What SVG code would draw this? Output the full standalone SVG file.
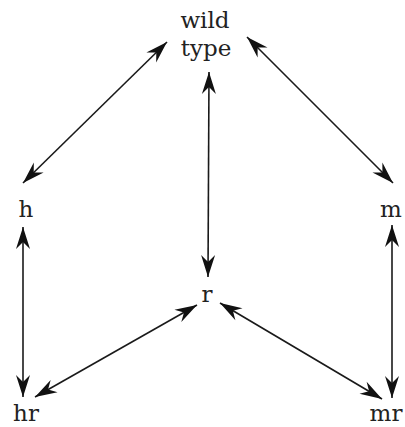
<svg xmlns="http://www.w3.org/2000/svg" width="405" height="427" viewBox="0 0 405 427">
<defs>
<marker id="ah" viewBox="-23 -8 25 16" markerUnits="userSpaceOnUse" markerWidth="25" markerHeight="16" refX="0" refY="0" orient="auto-start-reverse">
<path d="M0,0 L-22,-7 L-15,0 L-22,7 Z" fill="#111"/>
</marker>
<style>
.lbl{font-family:"DejaVu Serif","Liberation Serif",serif;font-size:23px;fill:#222;text-anchor:middle}
.c{stroke:#1a1a1a;stroke-width:1.6;fill:none;marker-start:url(#ah);marker-end:url(#ah)}
</style>
</defs>
<rect width="405" height="427" fill="#fff"/>
<g id="connectors">
<line class="c" x1="167" y1="42" x2="23" y2="183"/>
<line class="c" x1="209" y1="72" x2="208" y2="277"/>
<line class="c" x1="247" y1="37" x2="393" y2="183"/>
<line class="c" x1="23" y1="227" x2="23" y2="397"/>
<line class="c" x1="392" y1="225" x2="392" y2="398"/>
<line class="c" x1="197" y1="305" x2="35" y2="397"/>
<line class="c" x1="220" y1="303" x2="382" y2="399"/>
</g>
<g id="wildtype"><text class="lbl" x="205" y="28">wild</text><text class="lbl" x="206" y="56">type</text></g>
<g id="h"><text class="lbl" x="26" y="217">h</text></g>
<g id="m"><text class="lbl" x="391" y="217">m</text></g>
<g id="r"><text class="lbl" x="207" y="302">r</text></g>
<g id="hr"><text class="lbl" x="26" y="421">hr</text></g>
<g id="mr"><text class="lbl" x="386" y="421">mr</text></g>
</svg>
